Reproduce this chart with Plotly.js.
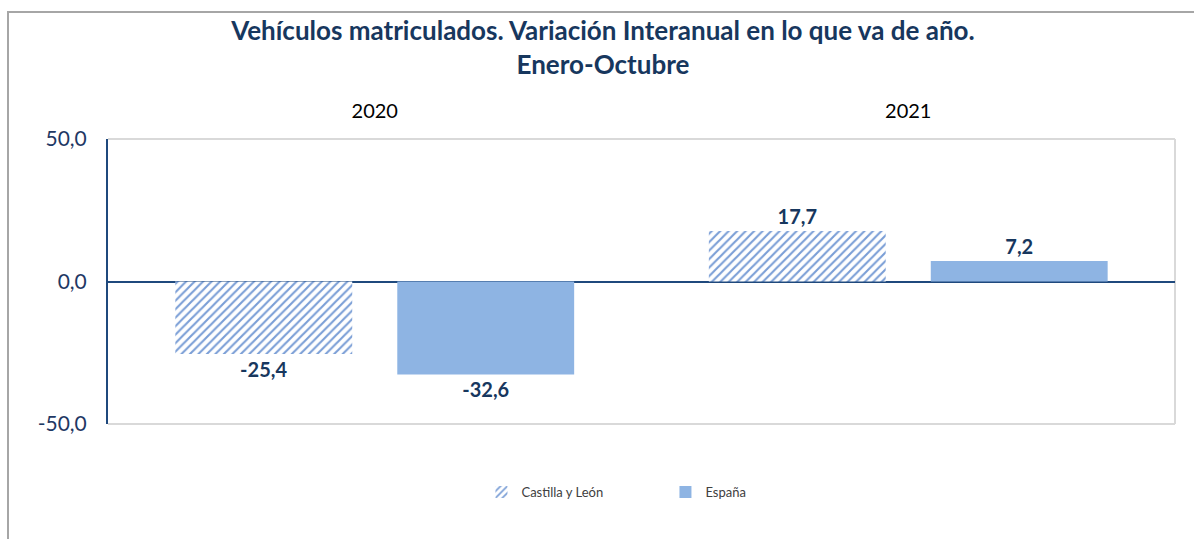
<!DOCTYPE html>
<html>
<head>
<meta charset="utf-8">
<script src="https://cdn.plot.ly/plotly-3.0.1.min.js"></script>
<style>
  html, body { margin: 0; padding: 0; background: #fff; }
  #wrap { position: relative; width: 1194px; height: 539px; overflow: hidden; }
  #chart { position: absolute; left: 0; top: 0; width: 1194px; height: 539px; }
  #frame { position: absolute; left: 7px; top: 11px; width: 1200px; height: 600px;
           border-top: 2px solid #A6A6A6; border-left: 2px solid #A6A6A6; pointer-events: none; }
</style>
</head>
<body>
<div id="wrap">
  <div id="chart"></div>
  <div id="frame"></div>
</div>
<script>
const categories = ["2020", "2021"];
const seriesNames = ["Castilla y León", "España"];
const castillaLeon = [-25.4, 17.7];
const espana = [-32.6, 7.2];
const yTicks = [-50, 0, 50];
const yTickText = yTicks.map(v => v.toFixed(1).replace(".", ","));

const FONT = "Lato, 'Open Sans', sans-serif";
const NAVY = "#17375E";

const traces = [
  {
    type: "bar",
    name: seriesNames[0],
    x: categories,
    y: castillaLeon,
    marker: {
      color: "#ffffff",
      line: { width: 0 },
      pattern: { shape: "/", fgcolor: "#7A9ED6", bgcolor: "#ffffff", size: 6, solidity: 0.35 }
    },
    texttemplate: "%{y:.1f}",
    textposition: "outside",
    cliponaxis: false,
    textfont: { family: FONT, size: 20, color: NAVY, weight: "bold" },
    hoverinfo: "skip"
  },
  {
    type: "bar",
    name: seriesNames[1],
    x: categories,
    y: espana,
    marker: { color: "#8EB4E3", line: { width: 0 } },
    texttemplate: "%{y:.1f}",
    textposition: "outside",
    cliponaxis: false,
    textfont: { family: FONT, size: 20, color: NAVY, weight: "bold" },
    hoverinfo: "skip"
  }
];

const layout = {
  width: 1194,
  height: 539,
  margin: { l: 108, r: 19, t: 139, b: 115 },
  paper_bgcolor: "#ffffff",
  plot_bgcolor: "#ffffff",
  separators: ",.",
  font: { family: FONT, color: NAVY },
  title: {
    text: "<b>Vehículos matriculados. Variación Interanual en lo que va de año.</b><br><b>Enero-Octubre</b>",
    font: { family: FONT, size: 26, color: NAVY },
    x: 0.505, xref: "container", xanchor: "center",
    y: 0.926, yref: "container", yanchor: "middle"
  },
  barmode: "group",
  bargap: 0.168,
  bargroupgap: 0.203,
  showlegend: true,
  legend: {
    orientation: "h",
    x: 0.35, xanchor: "left",
    y: -0.239, yanchor: "middle",
    font: { family: FONT, size: 13, color: "#404040" },
    entrywidth: 139,
    itemwidth: 30,
    traceorder: "normal"
  },
  xaxis: {
    type: "category",
    side: "top",
    showgrid: false,
    zeroline: false,
    showline: false,
    ticks: "",
    ticklabelstandoff: 16,
    tickfont: { family: FONT, size: 20, color: "#000000" },
    fixedrange: true
  },
  yaxis: {
    range: [-50, 50],
    tickvals: yTicks,
    ticktext: yTickText,
    showgrid: false,
    zeroline: true,
    zerolinecolor: "#1F497D",
    zerolinewidth: 2,
    showline: true,
    linecolor: "#1F497D",
    linewidth: 2,
    ticks: "",
    ticklabelstandoff: 15,
    tickfont: { family: FONT, size: 21, color: "#1F3864" },
    fixedrange: true
  },
  shapes: [
    { type: "line", xref: "paper", yref: "paper", x0: 0, x1: 1, y0: 1, y1: 1,
      line: { color: "#D9D9D9", width: 2 }, layer: "below" },
    { type: "line", xref: "paper", yref: "paper", x0: 1, x1: 1, y0: 0, y1: 1,
      line: { color: "#D9D9D9", width: 2 }, layer: "below" },
    { type: "line", xref: "paper", yref: "paper", x0: 0, x1: 1, y0: 0, y1: 0,
      line: { color: "#D9D9D9", width: 2 }, layer: "below" }
  ]
};

Plotly.newPlot("chart", traces, layout, { staticPlot: true, displayModeBar: false });
</script>
</body>
</html>
